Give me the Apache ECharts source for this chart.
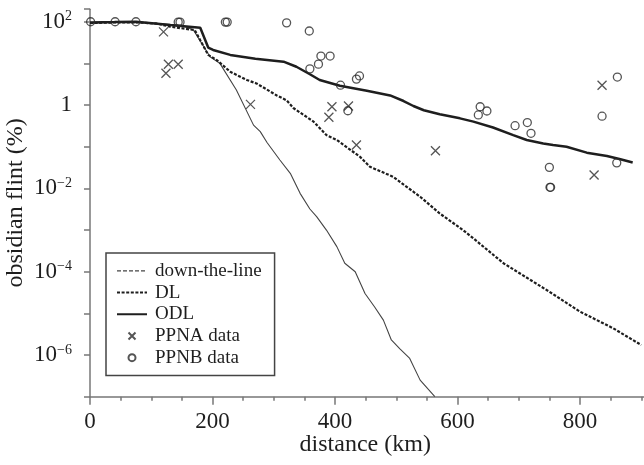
<!DOCTYPE html>
<html>
<head>
<meta charset="utf-8">
<script src="https://cdn.jsdelivr.net/npm/echarts@6/dist/echarts.min.js"></script>
<style>html,body{margin:0;padding:0;background:#fff}#c{width:644px;height:465px}</style>
</head>
<body>
<div id="c"></div>
<script>
// ---- data ----
const dtlDist = [0, 40, 75, 110, 150, 169, 196, 212, 239, 267, 278, 289, 310, 327, 343, 359, 370, 386, 403, 416, 433, 449, 465, 479, 492, 506, 522, 539, 563];
const dtlVal  = [93, 96, 97, 90, 82, 63, 14.5, 10, 2.3, 0.33, 0.23, 0.126, 0.048, 0.023, 0.0076, 0.0032, 0.0021, 0.001, 4e-4, 1.6e-4, 1e-4, 3e-5, 1.4e-5, 6.9e-6, 2.3e-6, 1.4e-6, 8.3e-7, 2.5e-7, 1e-7];

const dlDist = [0, 40, 75, 110, 131, 171, 193, 207, 229, 256, 272, 305, 321, 332, 365, 386, 403, 441, 457, 495, 539, 571, 609, 626, 675, 746, 800, 854, 900];
const dlVal  = [93, 96, 97, 90, 76, 63, 16, 12, 6.3, 4, 3.3, 1.7, 1.3, 0.85, 0.4, 0.19, 0.145, 0.057, 0.033, 0.019, 0.0063, 0.0025, 0.001, 6.3e-4, 1.6e-4, 3.6e-5, 1.1e-5, 4.4e-6, 1.74e-6];

const odlDist = [0, 40, 75, 110, 131, 180, 193, 201, 229, 270, 316, 337, 359, 375, 408, 452, 490, 512, 528, 545, 571, 604, 626, 658, 691, 713, 740, 756, 778, 811, 844, 866, 886];
const odlVal  = [96, 98, 100, 90, 83, 72, 24, 21, 16, 13, 11, 8.3, 5.5, 4, 2.9, 2.2, 1.7, 1.25, 0.95, 0.75, 0.6, 0.48, 0.4, 0.29, 0.19, 0.145, 0.12, 0.11, 0.1, 0.072, 0.06, 0.05, 0.042];

const ppnaDist = [120, 128, 144, 124, 262, 395, 390, 422, 435, 564, 836, 823];
const ppnaVal  = [57, 9.5, 9.5, 5.8, 1.04, 0.91, 0.51, 0.95, 0.11, 0.08, 3.0, 0.021];

const ppnbDist = [1, 41, 75, 144, 147, 221, 224, 321, 358, 377, 392, 373, 359, 409, 440, 435, 421, 637, 648, 634, 694, 714, 720, 750, 751, 752, 861, 836, 860];
const ppnbVal  = [100, 100, 100, 98, 98, 98, 98, 94, 60, 15, 15, 9.6, 7.4, 3.0, 5.0, 4.2, 0.73, 0.91, 0.72, 0.58, 0.32, 0.38, 0.21, 0.032, 0.0106, 0.0106, 4.7, 0.54, 0.041];

const xTicks = [0, 200, 400, 600, 800];
const yLabelExps = [-6, -4, -2, 0, 2];

const pairs = (xs, ys) => xs.map((x, i) => [x, ys[i]]);
const FONT = 'Liberation Serif';
const INK = '#1e1e1e';
const noDot = {color: 'transparent', borderColor: 'transparent', borderWidth: 0, opacity: 0};

const chart = echarts.init(document.getElementById('c'), null, {renderer: 'canvas'});
chart.setOption({
  animation: false,
  backgroundColor: '#fff',
  grid: {left: 90, right: -58.5, top: 9.2, bottom: 68.3, containLabel: false, outerBoundsMode: 'none'},
  xAxis: {
    type: 'value', min: 0, max: 1000, interval: 200,
    name: 'distance (km)', nameLocation: 'middle', nameGap: 36, nameMoveOverlap: false,
    nameTextStyle: {fontFamily: FONT, fontSize: 24, color: INK, padding: [0, 62, 0, 0]},
    axisLine: {show: true, lineStyle: {color: '#777', width: 1.5}},
    axisTick: {show: true, inside: false, length: 8, lineStyle: {color: '#777', width: 1.5}},
    minorTick: {show: true, splitNumber: 4, length: 4, lineStyle: {color: '#777', width: 1.5}},
    splitLine: {show: false},
    axisLabel: {
      margin: 14, fontFamily: FONT, fontSize: 23, color: INK,
      formatter: v => (xTicks.indexOf(v) >= 0 ? String(v) : '')
    }
  },
  yAxis: {
    type: 'log', logBase: 10, min: 1e-7, max: 200,
    name: 'obsidian flint (%)', nameLocation: 'middle', nameGap: 62, nameRotate: 90, nameMoveOverlap: false,
    nameTextStyle: {fontFamily: FONT, fontSize: 24, color: INK},
    axisLine: {show: true, lineStyle: {color: '#777', width: 1.5}},
    axisTick: {show: true, inside: false, length: 6, lineStyle: {color: '#777', width: 1.5}},
    splitLine: {show: false},
    axisLabel: {
      margin: 18, fontFamily: FONT, color: INK,
      formatter: function (v) {
        const e = Math.log10(v), r = Math.round(e);
        if (Math.abs(e - r) > 1e-6 || yLabelExps.indexOf(r) < 0) return '';
        if (r === 0) return '{b|1}';
        return '{b|10}{s|' + (r < 0 ? '\u2212' + (-r) : String(r)) + '}';
      },
      rich: {
        b: {fontFamily: FONT, fontSize: 23, color: INK, lineHeight: 24},
        s: {fontFamily: FONT, fontSize: 14, color: INK, lineHeight: 14, verticalAlign: 'top'}
      }
    }
  },
  legend: {
    orient: 'vertical', left: 106, top: 253,
    padding: [7, 13, 7, 10], itemGap: 0, itemWidth: 30, itemHeight: 7,
    borderColor: '#444', borderWidth: 1.5, backgroundColor: '#fff',
    textStyle: {fontFamily: FONT, fontSize: 19, color: INK, lineHeight: 21.7, padding: [0, 0, 0, 3]},
    data: [
      {name: 'down-the-line', itemStyle: noDot, lineStyle: {type: [4, 2], width: 1.2, color: '#444'}},
      {name: 'DL', itemStyle: noDot},
      {name: 'ODL', itemStyle: noDot},
      {name: 'PPNA data'},
      {name: 'PPNB data'}
    ]
  },
  series: [
    {
      name: 'down-the-line', type: 'line', data: pairs(dtlDist, dtlVal), showSymbol: false, symbol: 'none',
      lineStyle: {color: '#444', width: 1.1}, itemStyle: {color: '#444'}, z: 2
    },
    {
      name: 'DL', type: 'line', data: pairs(dlDist, dlVal), showSymbol: false, symbol: 'none',
      lineStyle: {color: '#1e1e1e', width: 2.2, type: [3, 1.6]}, itemStyle: {color: '#1e1e1e'}, z: 3
    },
    {
      name: 'ODL', type: 'line', data: pairs(odlDist, odlVal), showSymbol: false, symbol: 'none',
      lineStyle: {color: '#1e1e1e', width: 2.5}, itemStyle: {color: '#1e1e1e'}, z: 4
    },
    {
      name: 'PPNA data', type: 'scatter', data: pairs(ppnaDist, ppnaVal),
      symbol: 'path://M0,0L10,10M10,0L0,10', symbolSize: 9, symbolKeepAspect: true,
      itemStyle: {color: 'none', borderColor: '#2a2a2a', borderWidth: 1.3}, z: 5
    },
    {
      name: 'PPNB data', type: 'scatter', data: pairs(ppnbDist, ppnbVal),
      symbol: 'circle', symbolSize: 8,
      itemStyle: {color: 'none', borderColor: '#2a2a2a', borderWidth: 1.3}, z: 5
    }
  ]
});
</script>
</body>
</html>
